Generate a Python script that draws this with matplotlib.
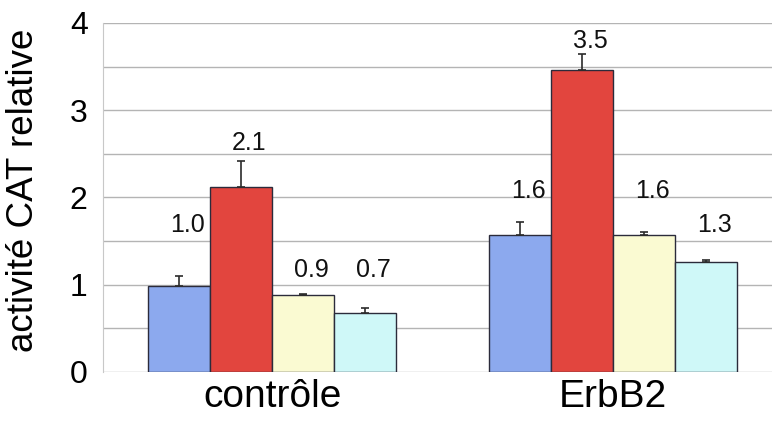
import matplotlib
matplotlib.use("Agg")
import matplotlib.pyplot as plt
from matplotlib.ticker import MultipleLocator
import numpy as np

plt.rcParams['font.family'] = ['Liberation Sans', 'DejaVu Sans']

groups = ["contrôle", "ErbB2"]
series_colors = ["#8CA9EE", "#E2453E", "#FAFAD2", "#CFF8F8"]
# values per series (rows) for each group (columns)
values = [
    [0.98, 1.57],   # blue
    [2.12, 3.46],   # red
    [0.88, 1.57],   # yellow
    [0.68, 1.26],   # cyan
]
errors = [
    [0.12, 0.15],
    [0.30, 0.19],
    [0.01, 0.04],
    [0.05, 0.02],
]
# label heights (data units, layout only)
label_y = [
    [1.69, 2.08],
    [2.62, 3.79],
    [1.17, 2.08],
    [1.17, 1.68],
]

fig = plt.figure(figsize=(7.72, 4.21), dpi=100)
ax = fig.add_axes([0.1334, 0.1164, 0.8666, 0.829])

group_centers = np.array([0.0, 5.5])
offsets = [-1.5, -0.5, 0.5, 1.5]
width = 1.0

for i, (vals, errs, col) in enumerate(zip(values, errors, series_colors)):
    x = group_centers + offsets[i]
    ax.bar(x, vals, width=width, color=col, edgecolor="#2b2b3b", linewidth=1.0, zorder=3)
    ax.errorbar(x, vals, yerr=[np.zeros(len(errs)), errs], fmt="none",
                ecolor="#2b2b2b", elinewidth=1.2, capsize=3, capthick=1.2, zorder=4)
    for xx, v, ly in zip(x, vals, label_y[i]):
        ax.text(xx + 0.13, ly, f"{v:.1f}", ha="center", va="center", fontsize=18, color="#111111")

ax.set_xlim(-2.73, 8.06)
ax.set_ylim(0, 4)
ax.yaxis.set_major_locator(MultipleLocator(1))
ax.yaxis.set_minor_locator(MultipleLocator(0.5))
ax.grid(which="both", axis="y", color="#B4B4B4", linewidth=1.0, zorder=0)
ax.set_axisbelow(True)
ax.tick_params(axis="y", which="both", length=0, pad=11, labelsize=23)
ax.set_xticks(group_centers)
ax.set_xticklabels(groups, fontsize=28)
ax.tick_params(axis="x", length=0, pad=5)
for s in ["top", "right", "bottom"]:
    ax.spines[s].set_visible(False)
ax.spines["left"].set_color("#C8C8C8")
ax.set_ylabel("activité CAT relative", fontsize=26.5)
ax.yaxis.set_label_coords(-0.092, 0.522)

fig.savefig("out.png", dpi=100)
